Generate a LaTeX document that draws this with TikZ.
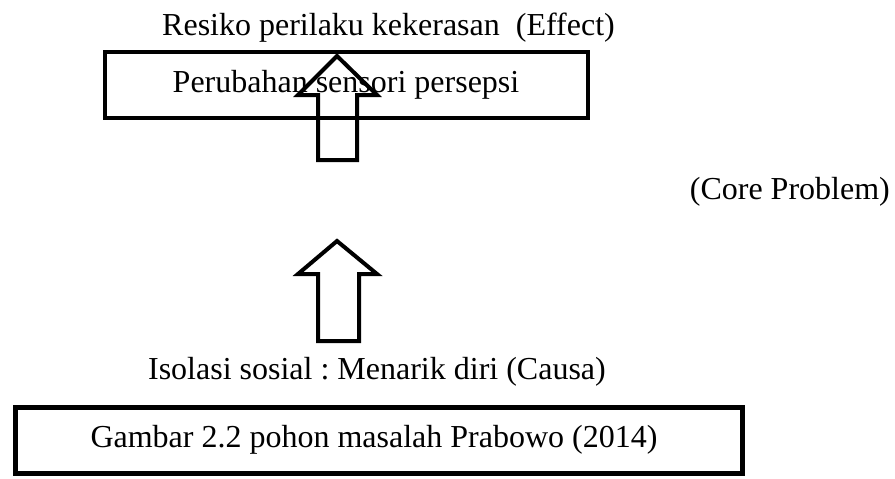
\documentclass[tikz,border=0pt]{standalone}
\usepackage{fontspec}
\setmainfont{Liberation Serif}
\frenchspacing
\begin{document}
\begin{tikzpicture}[x=1pt,y=-1pt,
  lbl/.style={inner sep=0pt,font=\fontsize{32}{38}\selectfont},
  boxline/.style={draw=black,line width=4pt},
  fatarrow/.style={draw=black,line width=4pt,line join=miter}]
\useasboundingbox (0,0) rectangle (895,479);
% top box
\draw[boxline] (105,52) rectangle (588,118);
\node[lbl] (persepsi) at (346,85) {Perubahan sensori persepsi};
% effect text
\node[lbl,anchor=base west] (effect) at (162,35) {Resiko perilaku kekerasan \ (Effect)};
% core problem
\node[lbl,anchor=east] (core) at (890,192) {(Core Problem)};
% cause text
\node[lbl,anchor=east] (causa) at (606,372) {Isolasi sosial : Menarik diri (Causa)};
% bottom box
\draw[line width=5pt] (15,407) rectangle (742,473);
\node[lbl] (gambar) at (374,440) {Gambar 2.2 pohon masalah Prabowo (2014)};
% upper arrow
\draw[fatarrow] (318,160) -- (318,95) -- (298,95) -- (337,56) -- (377,95) -- (357,95) -- (357,160) -- cycle;
% lower arrow
\draw[fatarrow] (318,341) -- (318,274) -- (298,274) -- (337,241) -- (377,274) -- (359,274) -- (359,341) -- cycle;
\end{tikzpicture}
\end{document}
